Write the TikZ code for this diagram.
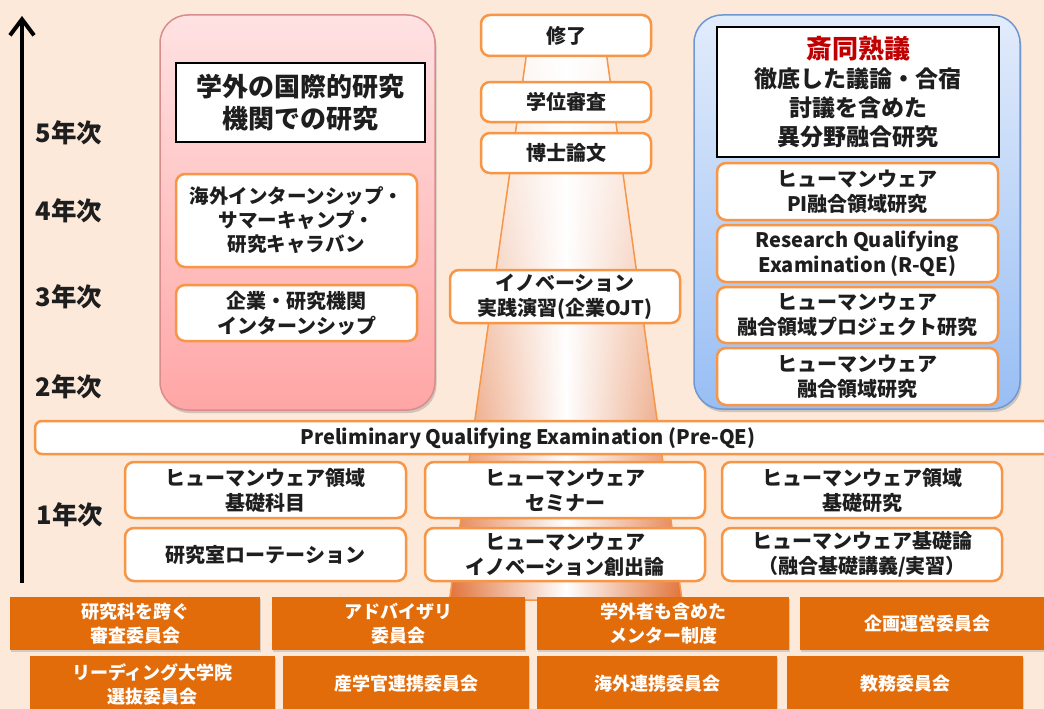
\documentclass[tikz,border=0pt]{standalone}
\usepackage{fontspec}
\setmainfont{Noto Sans CJK JP}
\usetikzlibrary{arrows.meta,shadows,fadings}
\definecolor{bg}{HTML}{FCE9DA}
\definecolor{orB}{HTML}{F79646}
\definecolor{orD}{HTML}{E36C0A}
\definecolor{coneO}{HTML}{E2733A}
\definecolor{pinkT}{HTML}{FFE2E2}
\definecolor{pinkB}{HTML}{FFA6A6}
\definecolor{pinkL}{HTML}{D98C8C}
\definecolor{blueT}{HTML}{E2ECFB}
\definecolor{blueB}{HTML}{98BEF4}
\definecolor{blueL}{HTML}{6F98D2}
\definecolor{redT}{HTML}{C00000}
\definecolor{txt}{HTML}{1E1E1E}
\newcommand{\fsz}[2]{\fontsize{#1}{#2}\selectfont}
\tikzfading[name=conefade, top color=transparent!10, bottom color=transparent!100]
\tikzset{
  obox/.style={draw=orB, line width=2.5pt, fill=white, rounded corners=9pt, align=center,
    inner sep=0pt, text=txt, font=\bfseries\fsz{20}{25}},
  kbox/.style={draw=black, line width=2.5pt, fill=white, align=center, inner sep=0pt, text=txt},
  cbox/.style={fill=orD, text=white, align=center, inner sep=0pt, font=\bfseries\fsz{18}{24},
    drop shadow={shadow xshift=1pt, shadow yshift=-2pt, opacity=.3}},
  bigbox/.style={rounded corners=28pt, line width=1.5pt,
    drop shadow={shadow xshift=1.5pt, shadow yshift=-3pt, opacity=.35}},
  yearlab/.style={font=\bfseries\fsz{25.5}{28}, text=txt, inner sep=0pt},
}
\begin{document}
\begin{tikzpicture}[x=1pt,y=-1pt]
\useasboundingbox (0,0) rectangle (1044,709);
\clip (0,0) rectangle (1044,709);
\fill[bg] (0,0) rectangle (1044,709);

% cone
\coordinate (k1) at (528.5,40);
\coordinate (k2) at (604.5,40);
\coordinate (k3) at (682,600);
\coordinate (k4) at (449.5,600);
\fill[left color=coneO, right color=coneO, middle color=white] (k1)--(k2)--(k3)--(k4)--cycle;
\fill[white, path fading=conefade] (k1)--(k2)--(k3)--(k4)--cycle;
\draw[orB, line width=1.5pt] (k1)--(k2)--(k3)--(k4)--cycle;

% big boxes
\node[bigbox, draw=pinkL, top color=pinkT, bottom color=pinkB, minimum width=275pt, minimum height=395pt] (pink) at (297.5,212.5) {};
\node[bigbox, draw=blueL, top color=blueT, bottom color=blueB, minimum width=326pt, minimum height=394pt] (blue) at (857,212) {};

% axis
\coordinate (axb) at (22,583);
\coordinate (axt) at (22,16);
\draw[line width=4pt, -{Straight Barb[length=16pt, width=24pt]}] (axb) -- (axt);

\node[yearlab] (y5) at (69,133) {5年次};
\node[yearlab] (y4) at (69,211) {4年次};
\node[yearlab] (y3) at (69,297) {3年次};
\node[yearlab] (y2) at (69,387) {2年次};
\node[yearlab] (y1) at (70,515) {1年次};

% left column
\node[kbox, font=\bfseries\fsz{26}{32}, minimum width=249pt, minimum height=79pt] (lk) at (300.5,102.5) {学外の国際的研究\\機関での研究};
\node[obox, font=\bfseries\fsz{19.5}{24}, minimum width=241pt, minimum height=93pt] (l1) at (296.5,220.5) {海外インターンシップ・\\サマーキャンプ・\\研究キャラバン};
\node[obox, minimum width=241pt, minimum height=56pt] (l2) at (296.5,313) {企業・研究機関\\インターンシップ};

% center column
\node[obox, minimum width=170pt, minimum height=41pt] (m1) at (566,35.5) {修了};
\node[obox, minimum width=170pt, minimum height=40pt] (m2) at (566,102) {学位審査};
\node[obox, minimum width=170pt, minimum height=40pt] (m3) at (566,153) {博士論文};
\node[obox, minimum width=230pt, minimum height=53pt] (m4) at (565,296.5) {イノベーション\\実践演習(企業OJT)};

% right column
\node[kbox, font=\bfseries\fsz{23}{29}, minimum width=282pt, minimum height=130pt] (rk) at (858,92) {{\fsz{26}{29}\color{redT}斎同熟議}\\徹底した議論・合宿\\討議を含めた\\異分野融合研究};
\node[obox, minimum width=281pt, minimum height=57pt] (r1) at (857.5,191.5) {ヒューマンウェア\\PI融合領域研究};
\node[obox, minimum width=281pt, minimum height=57pt] (r2) at (857.5,253.5) {Research Qualifying\\Examination (R-QE)};
\node[obox, minimum width=281pt, minimum height=56pt] (r3) at (857.5,315) {ヒューマンウェア\\融合領域プロジェクト研究};
\node[obox, minimum width=281pt, minimum height=57pt] (r4) at (857.5,376.5) {ヒューマンウェア\\融合領域研究};

% Pre-QE bar
\node[obox, rounded corners=7pt, minimum width=1030pt, minimum height=33pt] (pq) at (550,437.5) {};
\node[font=\bfseries\fsz{20}{24}, text=txt, inner sep=0pt] (pqt) at (528,438) {Preliminary Qualifying Examination (Pre-QE)};

% first year
\node[obox, minimum width=281pt, minimum height=56pt] (f11) at (265.5,490) {ヒューマンウェア領域\\基礎科目};
\node[obox, minimum width=280pt, minimum height=56pt] (f12) at (565,490) {ヒューマンウェア\\セミナー};
\node[obox, minimum width=280pt, minimum height=56pt] (f13) at (862,490) {ヒューマンウェア領域\\基礎研究};
\node[obox, minimum width=281pt, minimum height=53pt] (f21) at (265.5,554.5) {研究室ローテーション};
\node[obox, minimum width=280pt, minimum height=53pt] (f22) at (565,554.5) {ヒューマンウェア\\イノベーション創出論};
\node[obox, minimum width=280pt, minimum height=53pt] (f23) at (862,554.5) {ヒューマンウェア基礎論\\（融合基礎講義/実習）};

% committees
\node[cbox, minimum width=250pt, minimum height=53pt] (b1) at (135,623.5) {研究科を跨ぐ\\審査委員会};
\node[cbox, minimum width=253pt, minimum height=53pt] (b2) at (398.5,623.5) {アドバイザリ\\委員会};
\node[cbox, minimum width=252pt, minimum height=53pt] (b3) at (663,623.5) {学外者も含めた\\メンター制度};
\node[cbox, minimum width=254pt, minimum height=53pt] (b4) at (927,623.5) {企画運営委員会};
\node[cbox, minimum width=245pt, minimum height=56pt] (c1) at (152.5,684) {リーディング大学院\\選抜委員会};
\node[cbox, minimum width=246pt, minimum height=56pt] (c2) at (406,684) {産学官連携委員会};
\node[cbox, minimum width=240pt, minimum height=56pt] (c3) at (657,684) {海外連携委員会};
\node[cbox, minimum width=236pt, minimum height=56pt] (c4) at (905,684) {教務委員会};
\end{tikzpicture}
\end{document}
